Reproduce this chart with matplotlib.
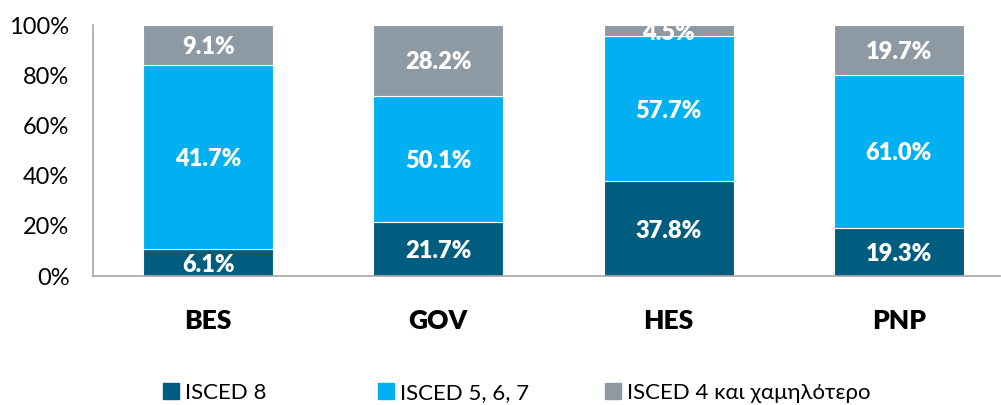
import matplotlib.pyplot as plt
from matplotlib.patches import Patch
import numpy as np

plt.rcParams['font.family'] = ['Lato', 'DejaVu Sans']

# data
sectors = ['BES', 'GOV', 'HES', 'PNP']
isced8 = [6.1, 21.7, 37.8, 19.3]
isced567 = [41.7, 50.1, 57.7, 61.0]
isced4 = [9.1, 28.2, 4.5, 19.7]
series_names = ['ISCED 8', 'ISCED 5, 6, 7', 'ISCED 4 και χαμηλότερο']
colors = ['#005D80', '#00B0F0', '#8D99A3']

series = np.array([isced8, isced567, isced4])
shares = series / series.sum(axis=0) * 100  # 100% stacked

fig = plt.figure(figsize=(10.01, 4.05), dpi=100)
ax = fig.add_axes([0.093, 0.3185, 0.906, 0.6195])

x = np.arange(len(sectors))
bottom = np.zeros(len(sectors))
for i in range(3):
    ax.bar(x, shares[i], 0.565, bottom=bottom, color=colors[i],
           edgecolor='white', linewidth=0.8)
    for j in range(len(sectors)):
        ax.text(x[j], bottom[j] + shares[i][j] / 2 - 0.8, '%.1f%%' % series[i][j],
                ha='center', va='center', color='white',
                fontsize=17, fontweight='heavy')
    bottom += shares[i]

ax.set_xlim(-0.5, 3.44)
ax.set_ylim(0, 100)
ax.set_yticks(range(0, 101, 20))
ax.set_yticklabels(['%d%%' % v for v in range(0, 101, 20)], fontsize=17)
ax.set_xticks(x)
ax.set_xticklabels(sectors, fontsize=19, fontweight='heavy')
ax.tick_params(axis='both', length=0)
ax.tick_params(axis='x', pad=24)
ax.tick_params(axis='y', pad=17)
for s in ['top', 'right']:
    ax.spines[s].set_visible(False)
ax.spines['left'].set_color('#A6A6A6')
ax.spines['bottom'].set_color('#A6A6A6')
ax.spines['left'].set_linewidth(1.2)
ax.spines['bottom'].set_linewidth(1.2)

# legend entries placed one by one
leg_x = [163, 378, 605]
for name, c, lx in zip(series_names, colors, leg_x):
    leg = fig.legend([Patch(color=c)], [name], loc='center left',
                     bbox_to_anchor=(lx / 1001, 12 / 405), frameon=False,
                     fontsize=16, handlelength=0.7, handleheight=0.7,
                     handletextpad=0.3, borderpad=0, borderaxespad=0)

plt.savefig('out.png')
